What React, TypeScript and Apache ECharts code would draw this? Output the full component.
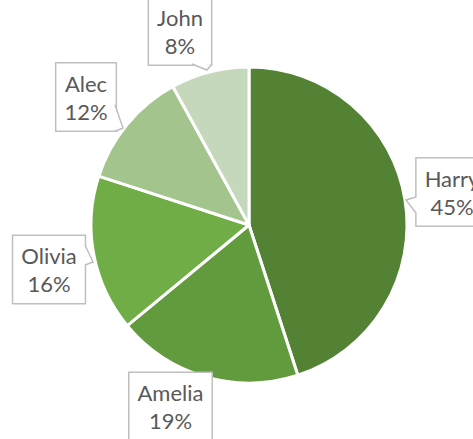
import React, { useEffect, useRef } from "react";
import * as echarts from "echarts";

const names = ["Harry", "Amelia", "Olivia", "Alec", "John"];
const values = [45, 19, 16, 12, 8];
const colors = ["#548235", "#629b3e", "#70ad47", "#a4c48e", "#c5d8bb"];

// label box centres (layout)
const labelPos: [number, number][] = [
  [452, 192],
  [170.5, 406.5],
  [49, 269.5],
  [86, 97],
  [180, 31],
];

// callout pointers (layout): [start, tip, end]
const pointers: [number, number][][] = [
  [[416, 197], [406, 200], [416, 213]],
  [[85, 245], [93, 262], [85, 265]],
  [[115, 105], [123, 128], [116, 131]],
  [[192, 64], [207, 70], [211, 65]],
];

export default function App() {
  const ref = useRef<HTMLDivElement>(null);
  useEffect(() => {
    const chart = echarts.init(ref.current!, null, { renderer: "svg" });
    const graphics: any[] = [];
    pointers.forEach((p) => {
      const [a, t, b] = p;
      const cx = (a[0] + b[0]) / 2;
      const cy = (a[1] + b[1]) / 2;
      const inset = (pt: number[]) => [pt[0] + (cx - t[0]) * 0.08, pt[1] + (cy - t[1]) * 0.08];
      graphics.push({
        type: "polygon",
        z: 100,
        shape: { points: [inset(a), t, inset(b), [cx + (cx - t[0]) * 0.15, cy + (cy - t[1]) * 0.15]] },
        style: { fill: "#ffffff", stroke: null },
        silent: true,
      });
      graphics.push({
        type: "polyline",
        z: 101,
        shape: { points: [a, t, b] },
        style: { stroke: "#bfbfbf", lineWidth: 1.5, fill: null },
        silent: true,
      });
    });
    chart.setOption({
      animation: false,
      graphic: graphics,
      series: [
        {
          type: "pie",
          center: [249, 225],
          radius: 158,
          startAngle: 90,
          clockwise: true,
          data: names.map((n, i) => ({ name: n, value: values[i], itemStyle: { color: colors[i] } })),
          itemStyle: { borderColor: "#ffffff", borderWidth: 3 },
          label: {
            show: true,
            position: "inside",
            formatter: "{b}\n{d}%",
            fontFamily: "Lato",
            fontSize: 22,
            lineHeight: 28,
            color: "#595959",
            align: "center",
            overflow: "none",
            backgroundColor: "#ffffff",
            borderColor: "#bfbfbf",
            borderWidth: 1.5,
            borderRadius: 0,
            padding: [5, 8, 6, 8],
          },
          labelLine: { show: false },
          labelLayout: (params: any) => {
            const p = labelPos[params.dataIndex];
            return { x: p[0], y: p[1], align: "center", verticalAlign: "middle", hideOverlap: false, moveOverlap: null };
          },
          emphasis: { disabled: true },
        },
      ],
    });
    return () => chart.dispose();
  }, []);
  return (
    <div
      ref={ref}
      style={{ position: "fixed", left: 0, top: 0, width: 473, height: 439, background: "#ffffff" }}
    />
  );
}
